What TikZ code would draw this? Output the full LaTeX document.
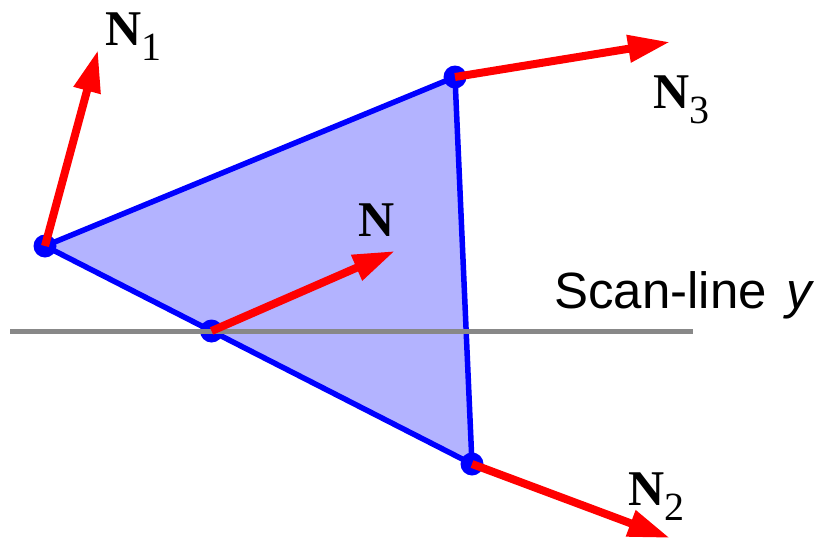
\documentclass[tikz,border=0pt]{standalone}
\usepackage{fontspec}
\setmainfont{Liberation Serif}
\setsansfont{Liberation Sans}
\usetikzlibrary{arrows.meta,calc}
\definecolor{trifill}{RGB}{179,179,255}
\definecolor{scangray}{RGB}{136,136,136}
\begin{document}
\begin{tikzpicture}[x=1pt,y=-1pt,
  tri/.style={draw=blue,line width=5.5pt,fill=trifill,line join=round},
  normalvec/.style={draw=red,line width=8pt,-{Triangle[length=42pt,width=26pt]}},
  vdot/.style={circle,fill=blue,inner sep=0pt,minimum size=23pt},
  lbl/.style={inner sep=0pt,anchor=base west},
  scan/.style={draw=scangray,line width=5pt}]
\useasboundingbox (0,0) rectangle (823,541);
\coordinate (v1) at (45,246);
\coordinate (v3) at (455,77);
\coordinate (v2) at (472,464);
\coordinate (vm) at ($(v1)!0.39!(v2)$);
\filldraw[tri] (v1) -- (v3) -- (v2) -- cycle;
\coordinate (sl) at (10,331);
\coordinate (sr) at (693,331);
\node[vdot] (d1) at (v1) {};
\node[vdot] (d3) at (v3) {};
\node[vdot] (d2) at (v2) {};
\node[vdot] (dm) at (vm) {};
\draw[scan] (sl) -- (sr);
\coordinate (t1) at (98,50);
\coordinate (t3) at (670,42);
\coordinate (t2) at (670,538);
\coordinate (tm) at (395,251);
\draw[normalvec] (d1.center) -- (t1);
\draw[normalvec] (d3.center) -- (t3);
\draw[normalvec] (d2.center) -- (t2);
\draw[normalvec] (dm.center) -- (tm);
\node[lbl] (l1) at (105,45) {\fontsize{50}{50}\selectfont\textbf{N}\raisebox{-15pt}{\fontsize{40}{40}\selectfont 1}};
\node[lbl] (l3) at (653,108) {\fontsize{50}{50}\selectfont\textbf{N}\raisebox{-15pt}{\fontsize{40}{40}\selectfont 3}};
\node[lbl] (l2) at (628,505) {\fontsize{50}{50}\selectfont\textbf{N}\raisebox{-15pt}{\fontsize{40}{40}\selectfont 2}};
\node[lbl] (lm) at (358,236) {\fontsize{50}{50}\selectfont\textbf{N}};
\node[lbl] (ls) at (554,308) {\sffamily\fontsize{51}{51}\selectfont Scan-line\hspace{6pt} \textit{y}};
\end{tikzpicture}
\end{document}
